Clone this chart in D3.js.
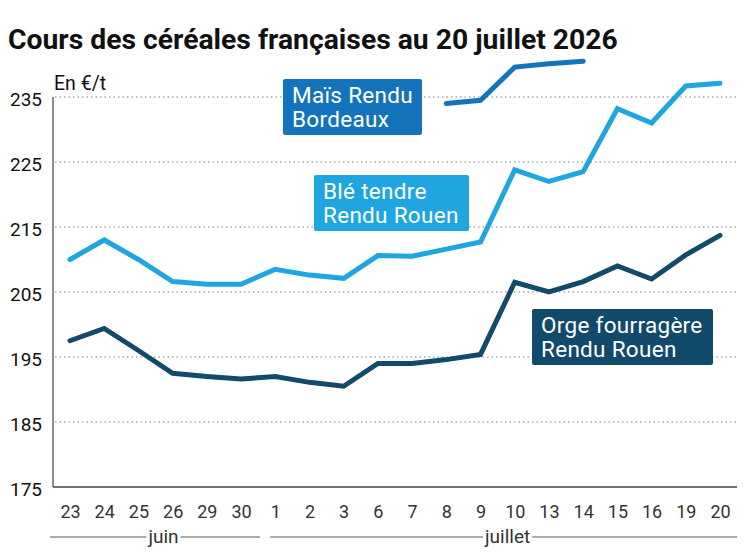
<!DOCTYPE html>
<html>
<head>
<meta charset="utf-8">
<script src="https://cdn.jsdelivr.net/npm/d3@7"></script>
<style>
  body { margin: 0; background: #fff; }
  svg text { font-family: Roboto, "Noto Sans", sans-serif; }
</style>
</head>
<body>
<div id="chart"></div>
<script>
// Dates on the x axis (day of month) and the month they belong to;
var days = ["23", "24", "25", "26", "29", "30", "1", "2", "3", "6", "7", "8", "9", "10", "13", "14", "15", "16", "19", "20"]
var months = [
    { name: "juin", from: 0, to: 5 },
    { name: "juillet", from: 6, to: 19 }
]

// Prices in €/t, one value per date (null = no quote);
var ble = [210, 213, 210, 206.6, 206.2, 206.2, 208.5, 207.6, 207.1, 210.6, 210.5, 211.6, 212.7, 223.8, 222, 223.5, 233.2, 231, 236.7, 237.1]
var orge = [197.5, 199.4, 196, 192.5, 192, 191.6, 192, 191.1, 190.5, 194, 194, 194.6, 195.4, 206.5, 205, 206.6, 209, 207, 210.7, 213.7]
var mais = [null, null, null, null, null, null, null, null, null, null, null, 234, 234.5, 239.6, 240.1, 240.5, null, null, null, null]

var yTicks = [175, 185, 195, 205, 215, 225, 235]

// Series styles and their label boxes;
var series = [
    { name: ["Maïs Rendu", "Bordeaux"], values: mais, color: "#1474bb", box: [283, 79, 139, 56] },
    { name: ["Blé tendre", "Rendu Rouen"], values: ble, color: "#1fa6e0", box: [314, 175, 155, 56] },
    { name: ["Orge fourragère", "Rendu Rouen"], values: orge, color: "#114a6a", box: [532, 309, 181, 56] }
]

const width = 747
const height = 558
const left = 53
const right = 737
const bottom = 487

const svg = d3.select("#chart").append("svg")
    .attr("width", width)
    .attr("height", height)

const x = d3.scalePoint()
    .domain(d3.range(days.length))
    .range([70, 720])

const y = d3.scaleLinear()
    .domain([175, 241])
    .range([bottom, 58])

// Title;
svg.append("text")
    .attr("x", 8)
    .attr("y", 49)
    .attr("font-size", 28.3)
    .attr("font-weight", "bold")
    .attr("fill", "#111")
    .text("Cours des céréales françaises au 20 juillet 2026")

svg.append("text")
    .attr("x", 54)
    .attr("y", 90)
    .attr("font-size", 19.5)
    .attr("fill", "#111")
    .text("En €/t")

// Dotted gridlines;
svg.append("g")
    .selectAll("line")
    .data(yTicks.filter(d => d > 175))
    .join("line")
    .attr("x1", left + 2)
    .attr("x2", right)
    .attr("y1", d => y(d))
    .attr("y2", d => y(d))
    .attr("stroke", "#aaa")
    .attr("stroke-width", 1.5)
    .attr("stroke-dasharray", "1.5,3")

// Y axis, drawn with d3.axisLeft and restyled;
const yAxis = svg.append("g")
    .attr("transform", `translate(${left},0)`)
    .call(d3.axisLeft(y).tickValues(yTicks).tickSize(0).tickPadding(11))
yAxis.select(".domain").remove()
yAxis.selectAll("text")
    .attr("font-size", 19)
    .attr("fill", "#111")
    .attr("dy", "0.7em")
    .attr("font-family", "Roboto, sans-serif")
    .attr("y", -5)

svg.append("line")
    .attr("x1", left).attr("x2", left)
    .attr("y1", y(235)).attr("y2", bottom)
    .attr("stroke", "#666").attr("stroke-width", 1.5)

// X axis;
const xAxis = svg.append("g")
    .attr("transform", `translate(0,${bottom})`)
    .call(d3.axisBottom(x).tickFormat(i => days[i]).tickSize(0).tickPadding(18))
xAxis.select(".domain").remove()
xAxis.selectAll("text")
    .attr("font-size", 18)
    .attr("fill", "#333")
    .attr("font-family", "Roboto, sans-serif")

svg.append("line")
    .attr("x1", left).attr("x2", right)
    .attr("y1", bottom).attr("y2", bottom)
    .attr("stroke", "#444").attr("stroke-width", 1.5)

// Month brackets under the dates;
months.forEach((m, i) => {
    const x0 = i == 0 ? x(m.from) - 20 : x(m.from) - 5
    const x1 = i == 0 ? x(m.to) + 19 : right
    const mid = i == 0 ? (x(m.from) + x(m.to)) / 2 + 8 : (x(m.from) + x(m.to)) / 2 + 10
    const t = svg.append("text")
        .attr("x", mid)
        .attr("y", 543)
        .attr("text-anchor", "middle")
        .attr("font-size", 19)
        .attr("fill", "#333")
        .text(m.name)
    const w = t.node().getComputedTextLength()
    svg.append("line")
        .attr("x1", x0).attr("x2", mid - w / 2 - 2)
        .attr("y1", 537).attr("y2", 537)
        .attr("stroke", "#555").attr("stroke-width", 1)
    svg.append("line")
        .attr("x1", mid + w / 2 + 2).attr("x2", x1)
        .attr("y1", 537).attr("y2", 537)
        .attr("stroke", "#555").attr("stroke-width", 1)
})

// Lines;
const line = d3.line()
    .defined(d => d != null)
    .x((d, i) => x(i))
    .y(d => y(d))

svg.append("g")
    .selectAll("path")
    .data(series)
    .join("path")
    .attr("d", d => line(d.values))
    .attr("fill", "none")
    .attr("stroke", d => d.color)
    .attr("stroke-width", 5)
    .attr("stroke-linejoin", "miter")
    .attr("stroke-linecap", "round")

// Label boxes;
const labels = svg.append("g")
    .selectAll("g")
    .data(series)
    .join("g")
    .attr("transform", d => `translate(${d.box[0]},${d.box[1]})`)

labels.append("rect")
    .attr("width", d => d.box[2])
    .attr("height", d => d.box[3])
    .attr("rx", 2)
    .attr("fill", d => d.color)

labels.append("text")
    .attr("x", 9)
    .attr("y", 24)
    .attr("font-size", 22.5)
    .attr("letter-spacing", 0.3)
    .attr("fill", "#fff")
    .selectAll("tspan")
    .data(d => d.name)
    .join("tspan")
    .attr("x", 9)
    .attr("dy", (d, i) => i == 0 ? 0 : 24)
    .text(d => d)
</script>
</body>
</html>
